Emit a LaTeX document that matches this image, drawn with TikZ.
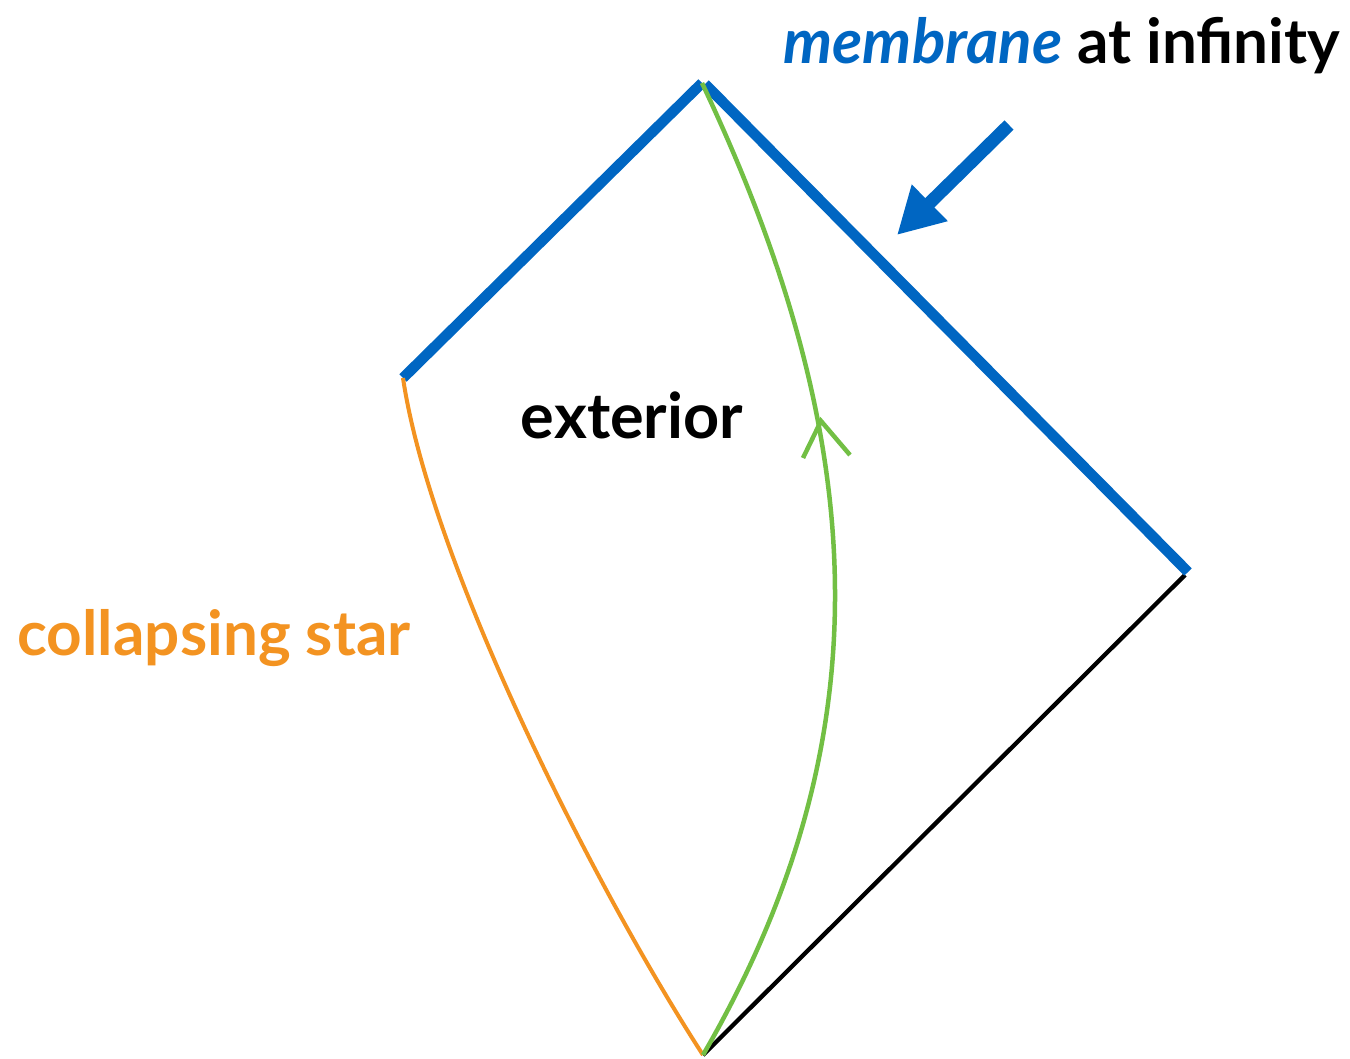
\documentclass[tikz,border=0pt]{standalone}
\usepackage{fontspec}
\setmainfont{Lato}
\usetikzlibrary{arrows.meta}
\definecolor{memblue}{HTML}{0066C2}
\definecolor{stargreen}{HTML}{72BF44}
\definecolor{starorange}{HTML}{F39321}
\begin{document}
\begin{tikzpicture}[x=1pt,y=-1pt,
  membrane/.style={memblue, line width=10.5pt},
  horizon/.style={black, line width=4.3pt},
  starline/.style={starorange, line width=4pt},
  worldline/.style={stargreen, line width=4.5pt},
  pointer/.style={memblue, line width=13pt, -{Triangle[length=46pt,width=48pt]}},
  lbl/.style={inner sep=0pt, anchor=base, font=\fontsize{62}{72}\selectfont\bfseries}]
\useasboundingbox (0,0) rectangle (1350,1059);
\coordinate (L) at (403,378);
\coordinate (T) at (702,83);
\coordinate (T2) at (705,84);
\coordinate (R) at (1188,572);
\coordinate (R2) at (1185,575);
\coordinate (B) at (703,1055);
\draw[horizon] (R2) -- (B);
\draw[membrane] (L) -- (T);
\draw[membrane] (T2) -- (R);
\draw[starline] (L) .. controls (430,560) and (590,880) .. (B);
\draw[worldline] (B) .. controls (890,733) and (868,434) .. (T);
\coordinate (V) at (821,421);
\coordinate (Va) at (803,458);
\coordinate (Vb) at (850,455);
\draw[worldline] (Va) -- (V) -- (Vb);
\coordinate (As) at (1009,125);
\coordinate (Ae) at (897,235);
\draw[pointer] (As) -- (Ae);
\node[lbl] (mem) at (1062,64) {\textcolor{memblue}{\itshape membrane} at infinity};
\node[lbl, font=\fontsize{63}{72}\selectfont\bfseries] (ext) at (632,438) {exterior};
\node[lbl, text=starorange] (star) at (214,655) {collapsing star};
\end{tikzpicture}
\end{document}
